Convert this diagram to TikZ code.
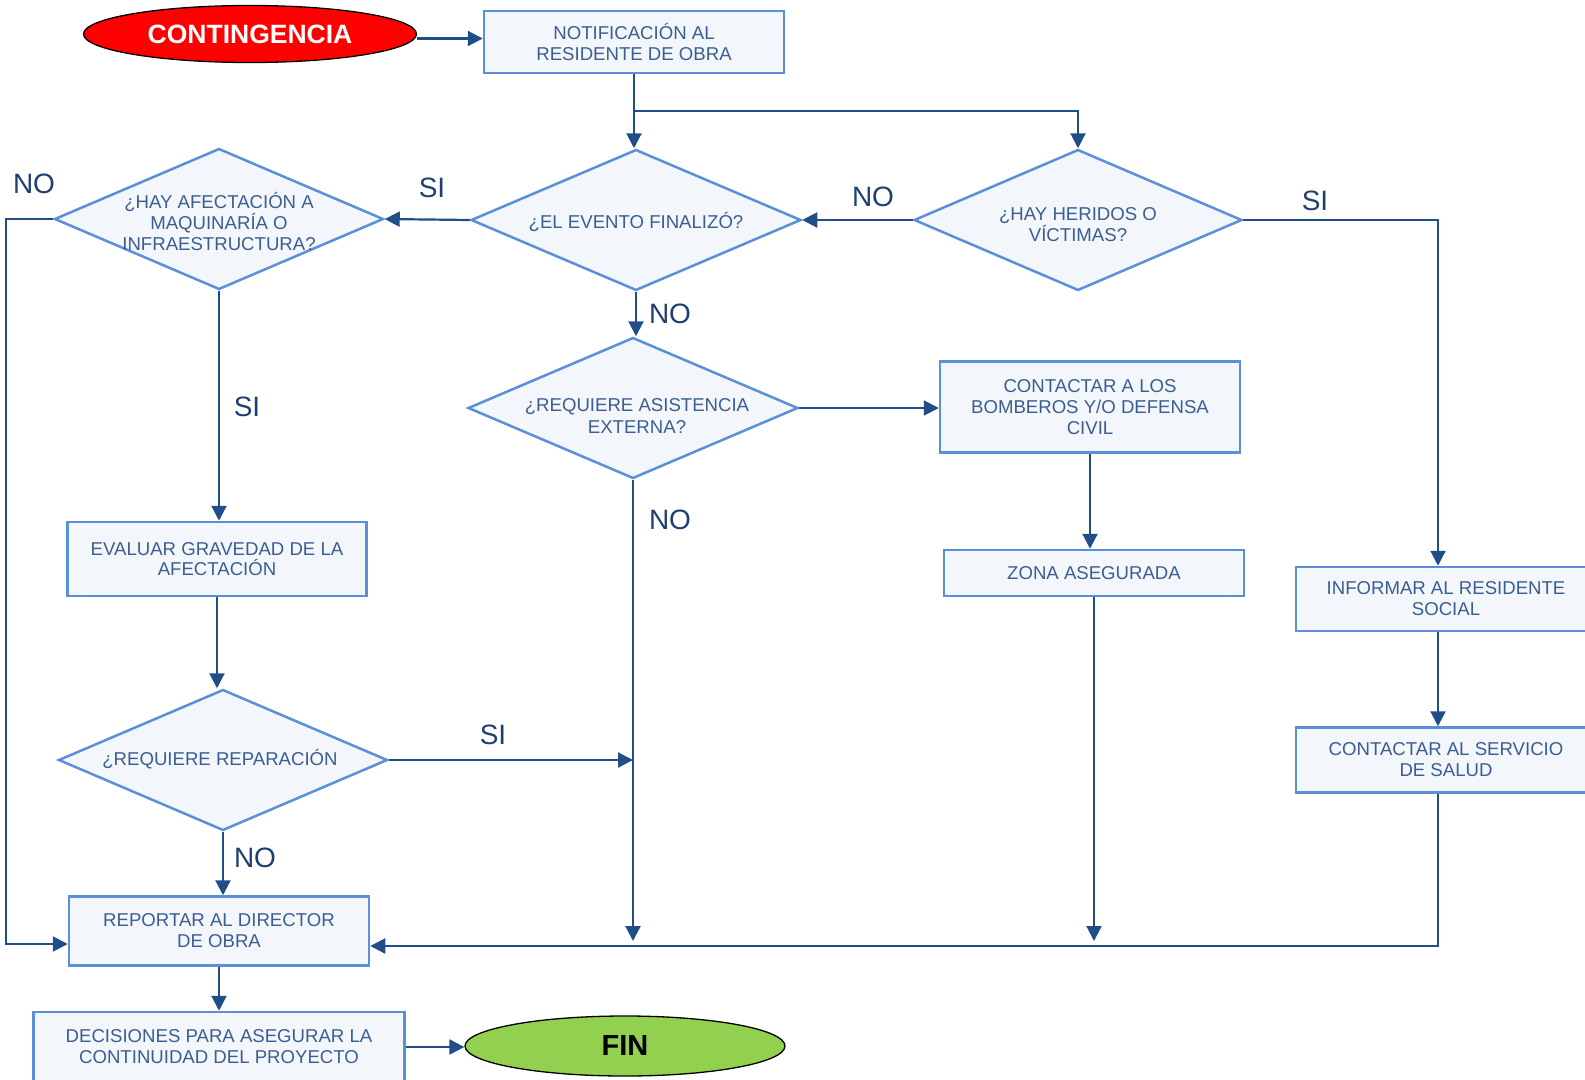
\documentclass[tikz,border=0pt]{standalone}
\usepackage{fontspec}
\setmainfont{Liberation Sans}
\usetikzlibrary{shapes.geometric,arrows.meta}
\definecolor{boxfill}{HTML}{F3F6FB}
\definecolor{boxline}{HTML}{5B8FD8}
\definecolor{boxtext}{HTML}{3B5E91}
\definecolor{conn}{HTML}{1F4E89}
\definecolor{labc}{HTML}{1F3F73}
\definecolor{finfill}{HTML}{92D050}
\tikzset{
  pbox/.style={draw=boxline, fill=boxfill, line width=2.5pt, inner sep=0pt,
    text=boxtext, align=center, font=\fontsize{18.6}{21}\selectfont},
  dia/.style={shape=diamond, draw=boxline, fill=boxfill, line width=2.5pt, inner sep=0pt},
  dtext/.style={text=boxtext, align=center, font=\fontsize{18.6}{21}\selectfont, inner sep=0pt},
  term/.style={shape=ellipse, draw=black, line width=1.3pt, inner sep=0pt,
    font=\bfseries\fontsize{26.5}{30}\selectfont},
  arr/.style={draw=conn, line width=2.2pt, -{Triangle[length=15pt,width=15pt]}},
  lab/.style={text=labc, font=\fontsize{28}{32}\selectfont, inner sep=0pt}
}
\begin{document}
\begin{tikzpicture}[x=1pt,y=-1pt]
\useasboundingbox (0,0) rectangle (1585,1079);
% terminals
\node[term, fill=red, text=white, minimum width=333pt, minimum height=57pt] (cont) at (250,34) {CONTINGENCIA};
\node[term, fill=finfill, text=black, minimum width=320pt, minimum height=60pt,
  font=\bfseries\fontsize{29}{32}\selectfont] (fin) at (625,1046) {FIN};
% boxes
\node[pbox, minimum width=300pt, minimum height=62pt] (notif) at (634,42) {NOTIFICACIÓN AL\\RESIDENTE DE OBRA};
\node[pbox, minimum width=300pt, minimum height=91pt] (bomb) at (1090,407) {CONTACTAR A LOS\\BOMBEROS Y/O DEFENSA\\CIVIL};
\node[pbox, minimum width=300pt, minimum height=46pt] (zona) at (1094,573) {ZONA ASEGURADA};
\node[pbox, minimum width=299pt, minimum height=74pt] (evaluar) at (217,559) {EVALUAR GRAVEDAD DE LA\\[-1.5pt]AFECTACIÓN};
\node[pbox, minimum width=300pt, minimum height=69pt] (reportar) at (219,931) {REPORTAR AL DIRECTOR\\DE OBRA};
\node[pbox, minimum width=371pt, minimum height=70pt] (decis) at (219,1047) {DECISIONES PARA ASEGURAR LA\\CONTINUIDAD DEL PROYECTO};
\node[pbox, minimum width=300pt, minimum height=64pt] (informar) at (1446,599) {INFORMAR AL RESIDENTE\\SOCIAL};
\node[pbox, minimum width=300pt, minimum height=65pt] (salud) at (1446,760) {CONTACTAR AL SERVICIO\\DE SALUD};
% decisions
\node[dia, minimum width=330pt, minimum height=141pt,
  label={[dtext, yshift=-2pt]center:{¿EL EVENTO FINALIZÓ?}}] (evento) at (636,220) {};
\node[dia, minimum width=328pt, minimum height=141pt,
  label={[dtext, yshift=-5pt]center:{¿HAY HERIDOS O\\VÍCTIMAS?}}] (heridos) at (1078,220) {};
\node[dia, minimum width=329pt, minimum height=141pt,
  label={[dtext, yshift=-3pt]center:{¿HAY AFECTACIÓN A\\MAQUINARÍA O\\INFRAESTRUCTURA?}}] (afect) at (219,219) {};
\node[dia, minimum width=330pt, minimum height=141pt,
  label={[dtext, yshift=-8pt, xshift=4pt]center:{¿REQUIERE ASISTENCIA\\EXTERNA?}}] (asist) at (633,408) {};
\node[dia, minimum width=329pt, minimum height=141pt,
  label={[dtext, yshift=1pt, xshift=-3pt]center:{¿REQUIERE REPARACIÓN}}] (repar) at (223,760) {};
% connector labels
\node[lab] (l1) at (34,184) {NO};
\node[lab] (l2) at (432,188) {SI};
\node[lab] (l3) at (873,197) {NO};
\node[lab] (l4) at (1315,201) {SI};
\node[lab] (l5) at (247,407) {SI};
\node[lab] (l6) at (670,314) {NO};
\node[lab] (l7) at (670,520) {NO};
\node[lab] (l8) at (493,735) {SI};
\node[lab] (l9) at (255,858) {NO};
% helper coordinates
\coordinate (br) at (634,111);
\coordinate (lft) at (6,0);
\coordinate (bot) at (0,941);
% connectors
\draw[arr] ([yshift=-4.5pt]cont.east) -- ([yshift=-4.5pt]cont.east -| notif.west);
\draw[arr] (notif.south) -- (notif.south |- evento.north);
\draw[arr] (br) -| (heridos.north);
\draw[arr] (heridos.west) -- (evento.east);
\draw[arr] (evento.west) -- (afect.east);
\draw[arr] (heridos.east) -| ([xshift=-8pt]informar.north);
\draw[arr] (afect.west) -- (afect.west -| lft) |- ([yshift=-13pt]reportar.west);
\draw[arr] (afect.south) -- (afect.south |- evaluar.north);
\draw[arr] (evento.south) -- (evento.south |- asist.north);
\draw[arr] (asist.east) -- (asist.east -| bomb.west);
\draw[arr] (bomb.south) -- (bomb.south |- zona.north);
\draw[arr] (zona.south) -- (zona.south |- bot);
\draw[arr] (asist.south) -- (asist.south |- bot);
\draw[arr] (evaluar.south) -- (evaluar.south |- repar.north);
\draw[arr] (repar.east) -- (repar.east -| asist.south);
\draw[arr] (repar.south) -- (repar.south |- reportar.north);
\draw[arr] ([xshift=-8pt]informar.south) -- ([xshift=-8pt]salud.north);
\draw[arr] ([xshift=-8pt]salud.south) |- ([yshift=-15pt]reportar.east);
\draw[arr] (reportar.south) -- (reportar.south |- decis.north);
\draw[arr] (decis.east) -- (decis.east -| fin.west);
\end{tikzpicture}
\end{document}
